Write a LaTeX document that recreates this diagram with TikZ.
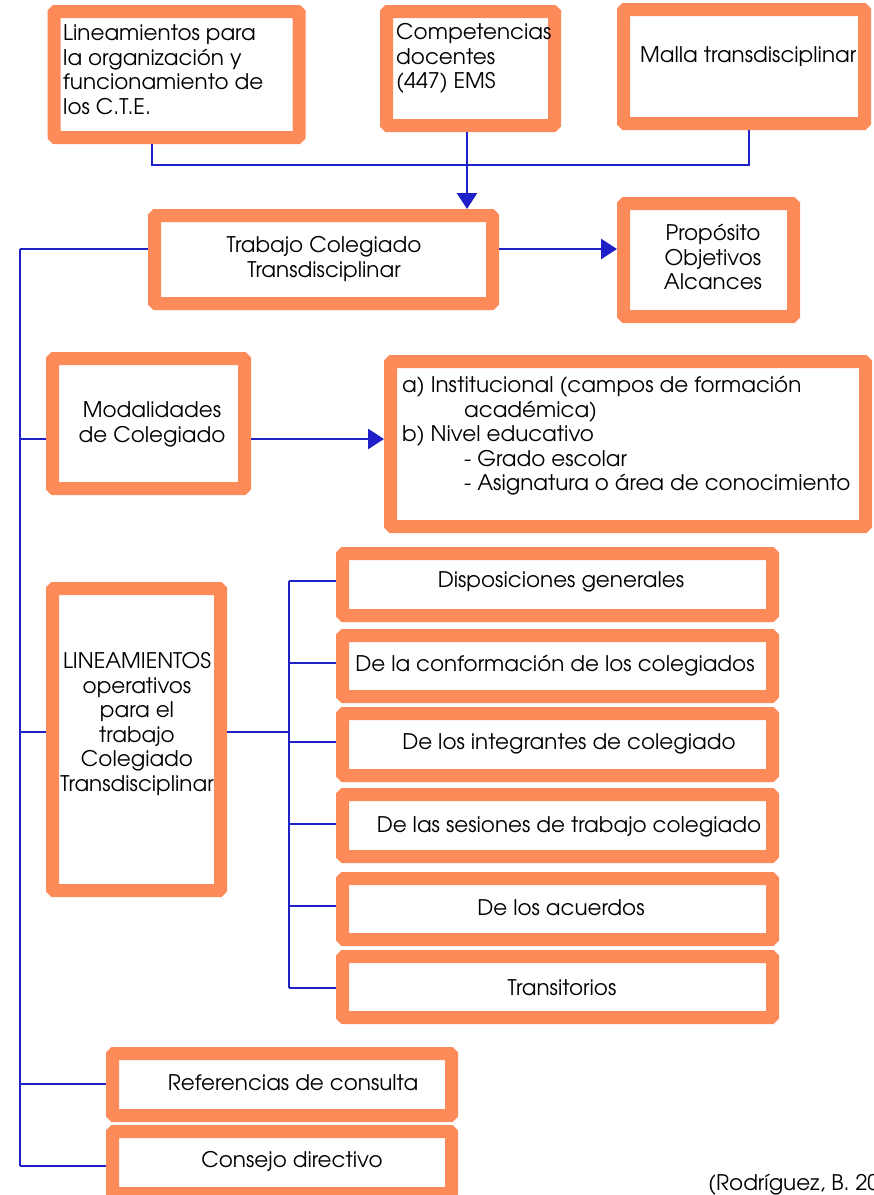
\documentclass[tikz,border=0pt]{standalone}
\usepackage{fontspec}
\IfFontExistsTF{TeX Gyre Adventor}{\setmainfont{TeX Gyre Adventor}}{\setmainfont{Poppins}}
\usetikzlibrary{arrows.meta,calc}
\definecolor{orng}{RGB}{253,139,90}
\definecolor{blu}{RGB}{32,32,200}
\newcommand\mybox[5]{\node[box, minimum width=#4pt, minimum height=#5pt] (#1) at (#2,#3) {};}
\begin{document}
\begin{tikzpicture}[x=1pt,y=-1pt,
  box/.style={draw=orng, line width=13pt, rounded corners=1.5pt, fill=white, inner sep=0pt, outer sep=6.5pt},
  txt/.style={inner sep=0pt, font=\fontsize{21.5}{24.5}\selectfont, text=black},
  conn/.style={draw=blu, line width=2.8pt},
  arr/.style={conn, -{Triangle[length=16pt,width=20pt]}}]
\useasboundingbox (0,0) rectangle (874,1195);
% boxes (inner dims = outer - 13)
\mybox{b1}{176.5}{74.5}{245}{126}
\mybox{b2}{470.5}{68.5}{168}{114}
\mybox{b3}{744}{66.5}{241}{114}
\mybox{trab}{323.5}{259.5}{338}{88}
\mybox{prop}{708.5}{260}{170}{113}
\mybox{moda}{148.5}{423.5}{192}{130}
\mybox{big}{628}{444}{475}{165}
\mybox{lin}{136.5}{739.5}{168}{302}
\mybox{s1}{557.5}{584.5}{430}{62}
\mybox{s2}{557.5}{666}{430}{61}
\mybox{s3}{557.5}{744.5}{430}{62}
\mybox{s4}{557.5}{825.5}{430}{62}
\mybox{s5}{557.5}{909}{430}{61}
\mybox{s6}{557.5}{987}{430}{61}
\mybox{ref}{282}{1084.5}{339}{62}
\mybox{cons}{282}{1162.5}{339}{62}
% texts
\node[txt, anchor=west, align=left] (t1) at (63,69.5) {Lineamientos para\\la organización y\\funcionamiento de\\los C.T.E.};
\node[txt, anchor=west, align=left] (t2) at (396,58.5) {Competencias\\docentes\\(447) EMS};
\node[txt, anchor=west] (t3) at (640,57) {Malla transdisciplinar};
\node[txt, align=center] (t4) at (324,259) {Trabajo Colegiado\\Transdisciplinar};
\node[txt, align=center] (t5) at (713,257) {Propósito\\Objetivos\\Alcances};
\node[txt, align=center] (t6) at (152,424.5) {Modalidades\\de Colegiado};
\node[txt, anchor=west, align=left] (t7) at (402,436) {a) Institucional (campos de formación\\\hspace*{62pt}académica)\\b) Nivel educativo\\\hspace*{62pt}- Grado escolar\\\hspace*{62pt}- Asignatura o área de conocimiento};
\node[txt, align=center] (t8) at (137,724) {LINEAMIENTOS\\operativos\\para el\\trabajo\\Colegiado\\Transdisciplinar};
\node[txt] (u1) at (561,582) {Disposiciones generales};
\node[txt] (u2) at (555,666) {De la conformación de los colegiados};
\node[txt] (u3) at (569,744) {De los integrantes de colegiado};
\node[txt] (u4) at (569,827) {De las sesiones de trabajo colegiado};
\node[txt] (u5) at (561,908) {De los acuerdos};
\node[txt] (u6) at (562,988) {Transitorios};
\node[txt] (u7) at (293,1083) {Referencias de consulta};
\node[txt] (u8) at (292,1161) {Consejo directivo};
\node[txt, anchor=west] (cite) at (708,1185) {(Rodríguez, B. 20};
% connector coordinates
\coordinate (j) at (467,165);
\coordinate (ja) at (152,165);
\coordinate (jb) at (749,165);
\coordinate (tr) at (20,249);
\coordinate (tm) at (20,439);
\coordinate (tl) at (20,732);
\coordinate (tf) at (20,1084);
\coordinate (tc) at (20,1166);
\coordinate (sl) at (289,732);
\coordinate (st1) at (289,581);
\coordinate (st2) at (289,663);
\coordinate (st3) at (289,742);
\coordinate (st4) at (289,824);
\coordinate (st5) at (289,906);
\coordinate (st6) at (289,988);
% connectors
\draw[conn] (b1.south -| ja) -- (ja) -- (jb) -- (b3.south -| jb);
\draw[arr] (b2.south -| j) -- (trab.north -| j);
\draw[conn] (tr) -- (tc);
\draw[conn] (tr) -- (trab.west |- tr);
\draw[arr] (trab.east |- tr) -- (prop.west |- tr);
\draw[conn] (tm) -- (moda.west |- tm);
\draw[arr] (moda.east |- tm) -- (big.west |- tm);
\draw[conn] (tl) -- (lin.west |- tl);
\draw[conn] (lin.east |- tl) -- (sl);
\draw[conn] (st1) -- (st6);
\draw[conn] (st1) -- (s1.west |- st1);
\draw[conn] (st2) -- (s2.west |- st2);
\draw[conn] (st3) -- (s3.west |- st3);
\draw[conn] (st4) -- (s4.west |- st4);
\draw[conn] (st5) -- (s5.west |- st5);
\draw[conn] (st6) -- (s6.west |- st6);
\draw[conn] (tf) -- (ref.west |- tf);
\draw[conn] (tc) -- (cons.west |- tc);
\end{tikzpicture}
\end{document}
